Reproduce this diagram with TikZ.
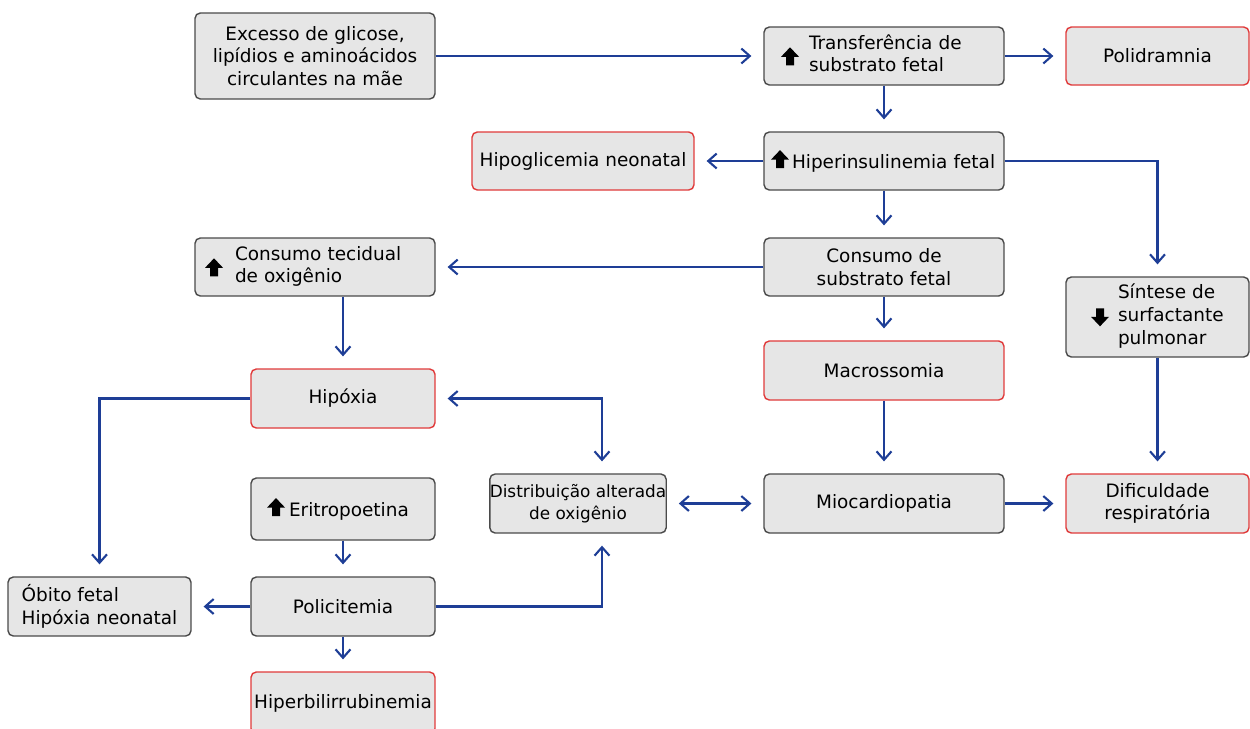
\documentclass[tikz,border=0pt]{standalone}
\usepackage{fontspec}
\setmainfont{DejaVu Sans}
\usetikzlibrary{arrows.meta,calc}
\definecolor{boxfill}{HTML}{E6E6E6}
\definecolor{boxline}{HTML}{4A4A4A}
\definecolor{redline}{HTML}{E03A3A}
\definecolor{bluec}{HTML}{1E3E96}
\newcommand\uparr[1]{\tikz[x=1cm,y=1cm,baseline=#1]\fill[black,sharp corners] (-0.08,0) -- (0.08,0) -- (0.08,0.17) -- (0.18,0.17) -- (0,0.36) -- (-0.18,0.17) -- (-0.08,0.17) -- cycle;}
\newcommand\downarr[1]{\tikz[x=1cm,y=1cm,baseline=#1]\fill[black,sharp corners] (-0.08,0.36) -- (0.08,0.36) -- (0.08,0.19) -- (0.18,0.19) -- (0,0) -- (-0.18,0.19) -- (-0.08,0.19) -- cycle;}
\newcommand\twol[2]{\begin{tabular}{@{}l@{}}#1\\#2\end{tabular}}
\newcommand\threel[3]{\begin{tabular}{@{}l@{}}#1\\#2\\#3\end{tabular}}
\tikzset{
  box/.style={rectangle, rounded corners=3pt, draw=boxline, fill=boxfill, line width=0.8pt,
    font=\fontsize{10.5}{12.9}\selectfont, align=center, inner sep=0pt},
  redbox/.style={box, draw=redline},
  leftin/.style 2 args={inner xsep=#1, text width=#2, align=left},
  conn/.style={draw=bluec, line width=1.2pt, -{Straight Barb[length=4.8pt,width=8.5pt]}, shorten >=6.8pt},
  conntwo/.style={draw=bluec, line width=1.2pt, {Straight Barb[length=4.8pt,width=8.5pt]}-{Straight Barb[length=4.8pt,width=8.5pt]}, shorten >=6.8pt, shorten <=6.8pt},
}
\begin{document}
\begin{tikzpicture}[x=0.02cm,y=-0.02cm]
\useasboundingbox (0,0) rectangle (1250,728);
\node[box, minimum width=4.8cm, minimum height=1.72cm] (exc) at (315,56) {Excesso de glicose,\\lipídios e aminoácidos\\circulantes na mãe};
\node[box, minimum width=4.8cm, minimum height=1.16cm, leftin={0.34cm}{4.12cm}] (tra) at (884,56) {\uparr{0.09cm}\hspace{0.2cm}\twol{Transferência de}{substrato fetal}};
\node[redbox, minimum width=3.66cm, minimum height=1.16cm] (pol) at (1157.5,56) {Polidramnia};
\node[box, minimum width=4.8cm, minimum height=1.16cm, leftin={0.14cm}{4.52cm}] (hin) at (884,161) {\uparr{0cm}\hspace{0.06cm}Hiperinsulinemia fetal};
\node[redbox, minimum width=4.44cm, minimum height=1.16cm] (hgl) at (583,161) {Hipoglicemia neonatal};
\node[box, minimum width=4.8cm, minimum height=1.16cm] (cs) at (884,267) {Consumo de\\substrato fetal};
\node[box, minimum width=4.8cm, minimum height=1.16cm, leftin={0.2cm}{4.4cm}] (ct) at (315,267) {\uparr{0.09cm}\hspace{0.24cm}\twol{Consumo tecidual}{de oxigênio}};
\node[box, minimum width=3.66cm, minimum height=1.6cm, leftin={0.5cm}{2.66cm}] (sin) at (1157.5,317) {\downarr{0.09cm}\hspace{0.18cm}\threel{Síntese de}{surfactante}{pulmonar}};
\node[redbox, minimum width=4.8cm, minimum height=1.18cm] (mac) at (884,370.5) {Macrossomia};
\node[redbox, minimum width=3.68cm, minimum height=1.18cm] (hpx) at (343,398.5) {Hipóxia};
\node[box, minimum width=3.52cm, minimum height=1.18cm, font=\fontsize{9.6}{12.8}\selectfont] (dis) at (578,503.5) {Distribuição alterada\\de oxigênio};
\node[box, minimum width=4.8cm, minimum height=1.18cm] (mio) at (884,503.5) {Miocardiopatia};
\node[redbox, minimum width=3.66cm, minimum height=1.18cm] (dif) at (1157.5,503.5) {Dificuldade\\respiratória};
\node[box, minimum width=3.68cm, minimum height=1.24cm, leftin={0.32cm}{3.04cm}] (eri) at (343,509) {\uparr{0cm}\hspace{0.08cm}Eritropoetina};
\node[box, minimum width=3.66cm, minimum height=1.18cm, align=left] (obi) at (99.5,606.5) {Óbito fetal\\Hipóxia neonatal};
\node[box, minimum width=3.68cm, minimum height=1.18cm] (pli) at (343,606.5) {Policitemia};
\node[redbox, minimum width=3.68cm, minimum height=1.24cm] (hbr) at (343,703) {Hiperbilirrubinemia};

\draw[conn] (exc.east) -- (tra.west);
\draw[conn] (tra) -- (pol);
\draw[conn] (tra) -- (hin);
\draw[conn] (hin) -- (hgl);
\draw[conn] (hin.east) -| (sin.north);
\draw[conn] (hin) -- (cs);
\draw[conn] (cs) -- (ct);
\draw[conn] (cs) -- (mac);
\draw[conn] (ct.south -| hpx.north) -- (hpx.north);
\draw[conn] (mac) -- (mio);
\draw[conn] (sin) -- (dif);
\draw[conn] (mio) -- (dif);
\draw[conntwo] (dis) -- (mio);
\draw[conntwo] (hpx.east) -| ([xshift=0.48cm]dis.north);
\draw[conn] (pli.east) -| ([xshift=0.48cm]dis.south);
\draw[conn] (hpx.west) -| (obi.north);
\draw[conn] (eri) -- (pli);
\draw[conn] (pli) -- (obi);
\draw[conn] (pli) -- (hbr);
\end{tikzpicture}
\end{document}
